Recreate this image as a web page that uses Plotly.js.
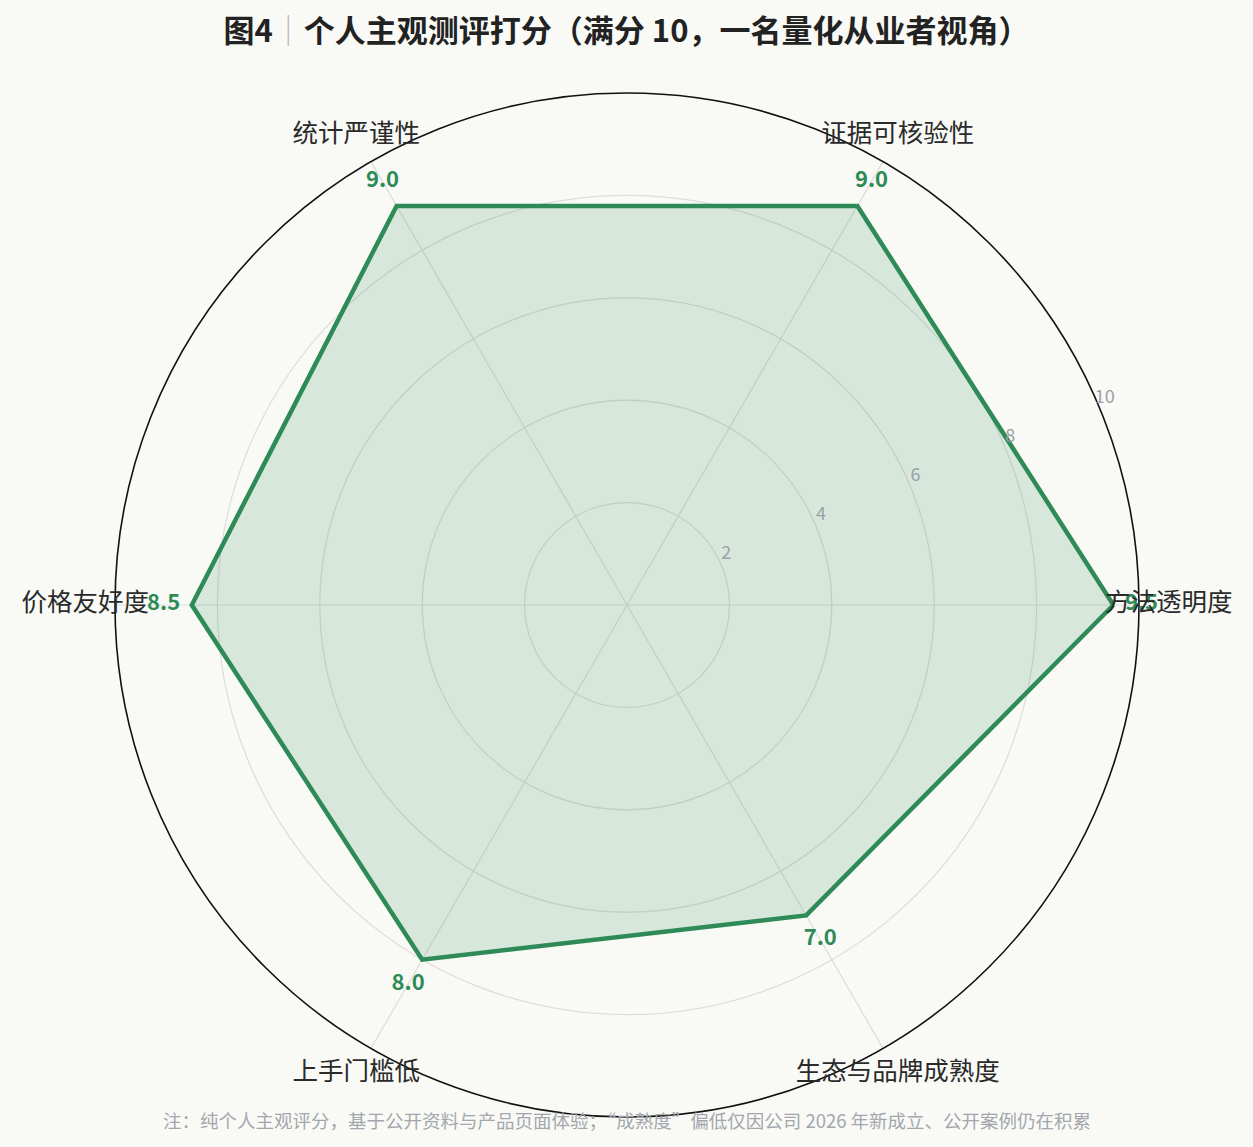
<!DOCTYPE html>
<html>
<head>
<meta charset="utf-8">
<script src="https://cdn.plot.ly/plotly-3.0.1.min.js"></script>
<style>html,body{margin:0;padding:0;background:#f9faf6;}#chart{width:1253px;height:1147px;}</style>
</head>
<body>
<div id="chart"></div>
<script>
const categories = ["方法透明度", "证据可核验性", "统计严谨性", "价格友好度", "上手门槛低", "生态与品牌成熟度"];
const scores = [9.5, 9.0, 9.0, 8.5, 8.0, 7.0];
const scoreLabels = ["9.5", "9.0", "9.0", "8.5", "8.0", "7.0"];
const radialTicks = [2, 4, 6, 8, 10];
const radialTickLabels = ["2", "4", "6", "8", "10"];
const titleText = "图4<span style='color:#b5b5b5;font-weight:300'>｜</span>个人主观测评打分（满分 10，一名量化从业者视角）";
const noteText = "注：纯个人主观评分，基于公开资料与产品页面体验；“成熟度”偏低仅因公司 2026 年新成立、公开案例仍在积累";

const W = 1253, H = 1147;
const cx = 627, cy = 605;
const pxPerUnit = 51.2;
const rMax = 10, rLabelMax = 10.58;
const radialAngle = 22.5;
const font = "'Noto Sans CJK SC', 'Noto Sans', sans-serif";
const green = "#2e8b57";

// category angles (degrees), evenly spaced counterclockwise from east
const angles = categories.map((c, i) => i * 360 / categories.length);

function domainFor(range) {
  const R = range * pxPerUnit;
  const yc = H - cy;
  return {
    x: [(cx - R) / W, (cx + R) / W],
    y: [Math.max(0, (yc - R) / H), Math.min(1, (yc + R) / H)]
  };
}

const closedTheta = angles.concat([angles[0]]);
const closedR = scores.concat([scores[0]]);

const traces = [
  {
    type: "scatterpolar", subplot: "polar", mode: "lines",
    r: closedR, theta: closedTheta,
    fill: "toself", fillcolor: "rgba(46,139,87,0.16)",
    line: {color: green, width: 4.5},
    hoverinfo: "skip", showlegend: false
  },
  {
    type: "scatterpolar", subplot: "polar2", mode: "text",
    r: radialTicks.map(v => v + 0.1), theta: radialTicks.map(() => radialAngle),
    text: radialTickLabels,
    textfont: {family: font, size: 18, color: "#9aa0a8"},
    textposition: "top center",
    cliponaxis: false, hoverinfo: "skip", showlegend: false
  },
  {
    type: "scatterpolar", subplot: "polar2", mode: "text",
    r: scores.map(v => v + 0.55), theta: angles,
    text: scoreLabels,
    textfont: {family: font, size: 22, color: green, weight: "bold"},
    textposition: "middle center",
    cliponaxis: false, hoverinfo: "skip", showlegend: false
  },
  {
    type: "scatterpolar", subplot: "polar2", mode: "text",
    r: categories.map(() => rLabelMax), theta: angles,
    text: categories,
    textfont: {family: font, size: 25.5, color: "#2a2a2a"},
    textposition: "middle center",
    cliponaxis: false, hoverinfo: "skip", showlegend: false
  }
];

const angBase = {
  type: "linear", thetaunit: "degrees",
  rotation: 0, direction: "counterclockwise",
  tickvals: angles
};

const layout = {
  width: W, height: H,
  paper_bgcolor: "#f9faf6",
  plot_bgcolor: "#f9faf6",
  margin: {l: 0, r: 0, t: 0, b: 0},
  showlegend: false,
  font: {family: font},
  title: {
    text: titleText,
    font: {family: font, size: 31, color: "#222222", weight: "bold"},
    x: 0.5, xref: "paper", xanchor: "center",
    y: 1 - 31 / H, yref: "container", yanchor: "middle"
  },
  polar: {
    bgcolor: "rgba(0,0,0,0)",
    domain: domainFor(rMax),
    angularaxis: Object.assign({}, angBase, {
      showticklabels: false, ticks: "",
      showline: true, linecolor: "#111111", linewidth: 1.6,
      showgrid: true, gridcolor: "#dddcd8", gridwidth: 1.2
    }),
    radialaxis: {
      range: [0, rMax],
      tickvals: radialTicks,
      angle: radialAngle,
      showticklabels: false,
      showline: false, ticks: "",
      showgrid: true, gridcolor: "#dddcd8", gridwidth: 1.2
    }
  },
  polar2: {
    bgcolor: "rgba(0,0,0,0)",
    domain: domainFor(rLabelMax),
    angularaxis: Object.assign({}, angBase, {
      showticklabels: false, ticks: "", showline: false, showgrid: false
    }),
    radialaxis: {
      range: [0, rLabelMax],
      showticklabels: false, ticks: "", showline: false, showgrid: false
    }
  },
  annotations: [
    {
      text: noteText, showarrow: false,
      xref: "paper", yref: "paper",
      x: 0.5, xanchor: "center",
      y: 1 - 1120 / H, yanchor: "middle",
      font: {family: font, size: 18.5, color: "#a3a7ad"}
    }
  ]
};

Plotly.newPlot("chart", traces, layout, {displayModeBar: false, staticPlot: true});
</script>
</body>
</html>
